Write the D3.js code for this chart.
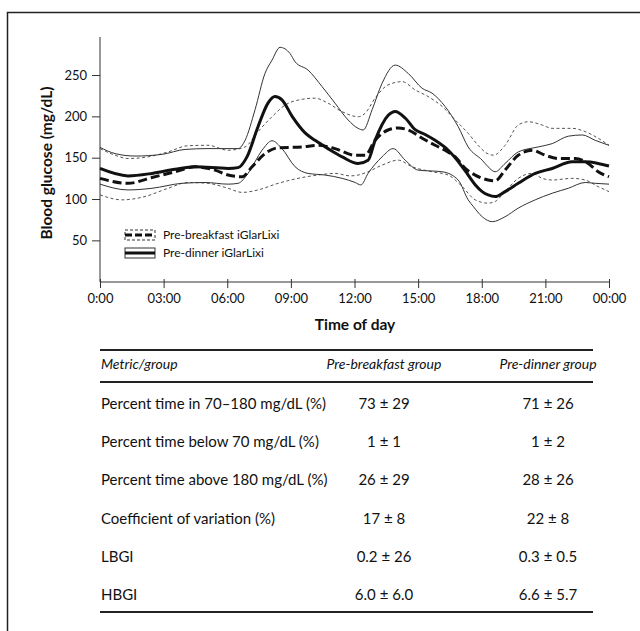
<!DOCTYPE html>
<html>
<head>
<meta charset="utf-8">
<script src="https://cdn.jsdelivr.net/npm/d3@7"></script>
<style>
  body { margin: 0; background: #fff; }
  svg text { font-family: Lato, "Open Sans", sans-serif; fill: #111; }
</style>
</head>
<body>
<div id="root"></div>
<script>
// [hour, mg/dL] pairs
var dinnerMean = [[0,137],[1.32,128],[2.45,131],[3.54,136],[4.48,139],[6.04,137],[6.51,138],[6.93,151],[7.45,187.5],[7.92,216],[8.25,224],[8.58,220],[9.06,200],[9.67,180],[10.14,171],[10.75,161],[11.42,151],[12.17,143],[12.64,147],[12.97,171],[13.58,201],[13.92,206],[14.39,198],[14.86,184],[15.33,178],[15.8,171],[16.42,159],[17.08,139],[17.36,129],[17.7,117],[18.02,109],[18.3,105],[18.63,103],[19.1,109],[19.72,119],[20.52,131],[21.32,137],[22.26,145],[22.88,145],[23.49,143],[24,140]];
var dinnerUpper = [[0,162.5],[0.71,155],[1.65,152],[2.92,154],[4.01,160],[5.09,161],[6.04,161],[6.51,161],[6.84,171],[7.31,208],[7.78,252],[8.11,268],[8.49,283.5],[8.96,276],[9.2,266],[9.81,256],[10.47,236],[11.08,216],[11.7,195.6],[12.17,185.5],[12.41,183.5],[12.83,208],[13.3,240],[13.92,262],[14.53,252],[15.19,234],[15.66,228],[16.27,212],[16.89,187.5],[17.36,163],[18.02,147],[18.3,139],[18.63,133],[19.1,143],[19.72,157],[20.66,163],[21.32,167],[22.08,176],[22.74,177.5],[23.35,171],[24,165]];
var dinnerLower = [[0,118],[1.32,111],[2.45,113],[3.87,119],[4.95,120],[6.04,118],[6.51,119],[6.98,131],[7.64,159],[8.11,170.5],[8.58,161],[9.2,139],[9.81,131],[10.61,129],[11.42,125],[12.03,120],[12.3,117],[12.64,131],[13.3,151],[13.82,161],[14.39,147],[15,135],[16.13,133],[16.89,123],[17.36,99],[17.6,91],[18.02,78.6],[18.5,72.6],[19.1,78.6],[19.72,89],[20.52,99],[21.32,107],[22.08,113],[22.88,120],[23.35,119],[24,118]];
var breakfastMean = [[0,125],[1.32,119],[2.45,126],[3.54,133],[4.48,139],[5.42,135],[6.04,129],[6.7,127],[7.17,139],[7.78,155],[8.4,162],[9.53,163],[10.28,165],[11.08,161],[12.03,153],[12.5,153],[12.97,171],[13.58,183.5],[14.06,186],[14.53,183.5],[15.19,173.5],[15.8,165],[16.27,159],[16.75,151],[17.22,137],[17.69,129],[18.3,123],[18.63,122],[19.1,135],[19.72,153],[20.38,159],[20.99,153],[21.6,149],[22.41,149],[23.02,143],[23.49,133],[24,127]];
var breakfastUpper = [[0,161],[0.71,153],[1.32,149],[2.26,151],[3.21,157],[4.15,164.5],[5.09,165],[6.04,159],[6.84,163],[7.45,181.5],[8.11,199.6],[8.73,213.7],[9.53,220.6],[10.14,222],[10.75,216],[11.42,205.6],[12.17,199.6],[12.5,203.7],[12.97,222],[13.58,238],[14.25,242],[14.86,232],[15.47,224],[16.13,212],[16.75,195.6],[17.36,179.5],[17.9,163],[18.2,156],[18.55,153],[19.1,165],[19.72,189.5],[20.19,193.5],[20.85,189.5],[21.32,185.5],[22.26,185.5],[22.88,181.5],[23.49,173.5],[24,165]];
var breakfastLower = [[0,105],[1.04,99],[2.12,103],[3.21,113],[4.15,120],[5.09,119],[6.04,113],[6.7,108],[7.45,111],[8.4,119],[9.34,125],[10.28,129],[11.08,131],[11.8,128],[12.17,129],[12.64,133],[13.3,141],[14.06,147],[14.72,139],[15.66,133],[16.42,129],[17.08,115],[17.69,99],[18.3,95],[18.63,97],[19.1,109],[19.72,125],[20.38,131],[20.85,125],[21.32,123],[22.26,125],[22.88,123],[23.49,115],[24,109]];

var xTickHours = [0, 3, 6, 9, 12, 15, 18, 21, 24];
var xTickLabels = ['0:00', '03:00', '06:00', '09:00', '12:00', '15:00', '18:00', '21:00', '00:00'];
var yTicks = [50, 100, 150, 200, 250];

var legendLabels = ['Pre-breakfast iGlarLixi', 'Pre-dinner iGlarLixi'];

var tableHeader = ['Metric/group', 'Pre-breakfast group', 'Pre-dinner group'];
var metrics = ['Percent time in 70\u2013180 mg/dL (%)', 'Percent time below 70 mg/dL (%)', 'Percent time above 180 mg/dL (%)', 'Coefficient of variation (%)', 'LBGI', 'HBGI'];
var breakfastStats = ['73 \u00b1 29', '1 \u00b1 1', '26 \u00b1 29', '17 \u00b1 8', '0.2 \u00b1 26', '6.0 \u00b1 6.0'];
var dinnerStats = ['71 \u00b1 26', '1 \u00b1 2', '28 \u00b1 26', '22 \u00b1 8', '0.3 \u00b1 0.5', '6.6 \u00b1 5.7'];

var w = 640, h = 631;
var svg = d3.select('#root').append('svg').attr('width', w).attr('height', h);

// frame of the figure panel
svg.append('path').attr('d', 'M7.5,631 V12.5 H640').attr('fill', 'none').attr('stroke', '#222').attr('stroke-width', 1.5);

var x = d3.scaleLinear().domain([0, 24]).range([100, 609]);
var y = d3.scaleLinear().domain([0, 296]).range([281.7, 37]);

var xAxis = svg.append('g').attr('transform', 'translate(0,282)')
    .call(d3.axisBottom(x).tickValues(xTickHours).tickSize(6).tickPadding(6)
        .tickFormat(function (d, i) { return xTickLabels[i]; }));
xAxis.select('.domain').attr('d', 'M100,0H609');
xAxis.selectAll('.tick line').attr('y1', -3);
xAxis.selectAll('text').attr('font-size', 13).attr('font-family', 'Lato');

var yAxis = svg.append('g').attr('transform', 'translate(100,0)')
    .call(d3.axisLeft(y).tickValues(yTicks).tickSize(8).tickPadding(5));
yAxis.select('.domain').attr('d', 'M0,37V282');
yAxis.selectAll('text').attr('font-size', 13).attr('font-family', 'Lato');
svg.selectAll('.domain, .tick line').attr('stroke', '#333');

svg.append('text').attr('transform', 'translate(52,163) rotate(-90)')
    .attr('text-anchor', 'middle').attr('font-size', 15.5).attr('font-weight', 'bold')
    .text('Blood glucose (mg/dL)');
svg.append('text').attr('x', 355).attr('y', 330)
    .attr('text-anchor', 'middle').attr('font-size', 15.5).attr('font-weight', 'bold')
    .text('Time of day');

var line = d3.line()
    .x(function (d) { return x(d[0]); })
    .y(function (d) { return y(d[1]); })
    .curve(d3.curveMonotoneX);

var series = [
    { data: breakfastUpper, width: 1, dash: '3,2.5', color: '#555' },
    { data: breakfastLower, width: 1, dash: '3,2.5', color: '#555' },
    { data: dinnerUpper, width: 1, dash: null, color: '#333' },
    { data: dinnerLower, width: 1, dash: null, color: '#333' },
    { data: breakfastMean, width: 3, dash: '9,4', color: '#111' },
    { data: dinnerMean, width: 3, dash: null, color: '#111' }
];

svg.append('g').selectAll('path')
    .data(series)
    .enter()
    .append('path')
    .attr('d', function (d) { return line(d.data); })
    .attr('fill', 'none')
    .attr('stroke', function (d) { return d.color; })
    .attr('stroke-width', function (d) { return d.width; })
    .attr('stroke-dasharray', function (d) { return d.dash; });

// legend
var legend = svg.append('g').selectAll('g')
    .data(legendLabels)
    .enter()
    .append('g')
    .attr('transform', function (d, i) { return 'translate(125,' + (235 + i * 18) + ')'; });
legend.append('rect')
    .attr('x', 0).attr('y', -5).attr('width', 30).attr('height', 10)
    .attr('fill', 'none').attr('stroke', '#333').attr('stroke-width', 1)
    .attr('stroke-dasharray', function (d, i) { return i === 0 ? '3,2' : null; });
legend.append('line')
    .attr('x1', 0).attr('x2', 30).attr('y1', 0).attr('y2', 0)
    .attr('stroke', '#111').attr('stroke-width', 3)
    .attr('stroke-dasharray', function (d, i) { return i === 0 ? '7,3' : null; });
legend.append('text')
    .attr('x', 38).attr('y', 4).attr('font-size', 12)
    .text(function (d) { return d; });

// table
var tbl = svg.append('g');
var colX = [101, 384, 548];
[350, 382, 612].forEach(function (ry) {
    tbl.append('line').attr('x1', 100).attr('x2', 593).attr('y1', ry).attr('y2', ry)
        .attr('stroke', '#222').attr('stroke-width', 2);
});
tbl.selectAll('.hdr')
    .data(tableHeader)
    .enter()
    .append('text')
    .attr('class', 'hdr')
    .attr('x', function (d, i) { return colX[i]; })
    .attr('y', 369)
    .attr('text-anchor', function (d, i) { return i === 0 ? 'start' : 'middle'; })
    .attr('font-size', 14).attr('font-style', 'italic')
    .text(function (d) { return d; });

var rowY = d3.scaleLinear().domain([0, metrics.length - 1]).range([409, 600]);
var rows = tbl.selectAll('.row')
    .data(metrics)
    .enter()
    .append('g')
    .attr('class', 'row')
    .attr('transform', function (d, i) { return 'translate(0,' + rowY(i) + ')'; });
rows.append('text').attr('x', colX[0]).attr('font-size', 15).text(function (d) { return d; });
rows.append('text').attr('x', colX[1]).attr('text-anchor', 'middle').attr('font-size', 15)
    .text(function (d, i) { return breakfastStats[i]; });
rows.append('text').attr('x', colX[2]).attr('text-anchor', 'middle').attr('font-size', 15)
    .text(function (d, i) { return dinnerStats[i]; });
</script>
</body>
</html>
